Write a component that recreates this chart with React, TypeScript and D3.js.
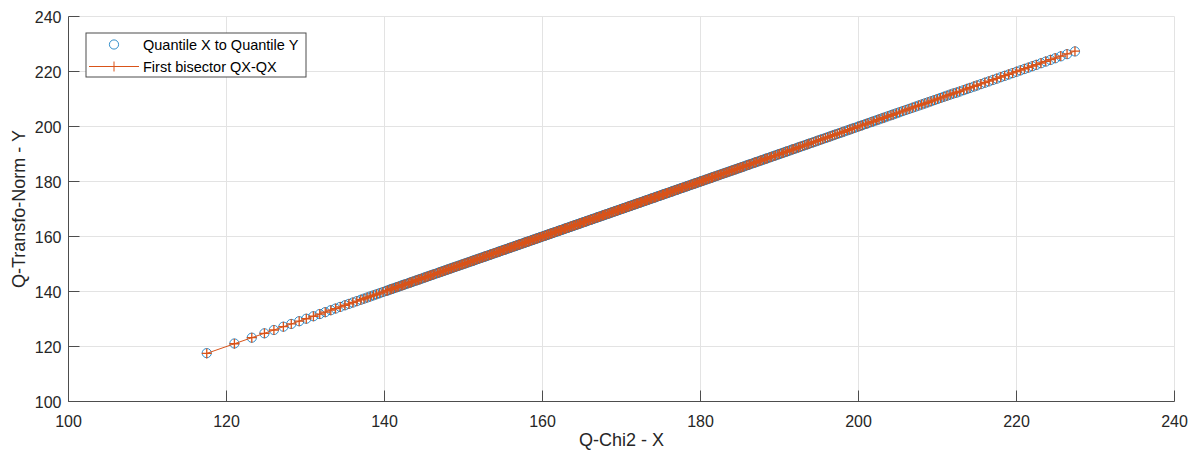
import React from 'react';
import * as d3 from 'd3';

// Quantiles of X (Q-Chi2)
const quantileX = [
  117.5, 121.0, 123.2, 124.8, 126.0, 127.2, 128.2, 129.2, 130.1, 131.0,
  131.8, 132.5, 133.2, 133.8, 134.4, 135.0, 135.5, 136.0, 136.5, 137.0,
  137.4, 137.8, 138.2, 138.6, 139.0, 139.4, 139.8,
  140.2, 140.4, 140.7, 140.9, 141.1, 141.4, 141.6, 141.8, 142.1, 142.3,
  142.5, 142.7, 143.0, 143.2, 143.4, 143.6, 143.9, 144.1, 144.3, 144.5,
  144.7, 145.0, 145.2, 145.4, 145.6, 145.8, 146.0, 146.2, 146.4, 146.7,
  146.9, 147.1, 147.3, 147.5, 147.7, 147.9, 148.1, 148.3, 148.5, 148.7,
  148.9, 149.1, 149.3, 149.5, 149.7, 149.9, 150.1, 150.3, 150.5, 150.7,
  150.9, 151.1, 151.2, 151.4, 151.6, 151.8, 152.0, 152.2, 152.4, 152.6,
  152.7, 152.9, 153.1, 153.3, 153.5, 153.6, 153.8, 154.0, 154.2, 154.4,
  154.5, 154.7, 154.9, 155.1, 155.2, 155.4, 155.6, 155.8, 155.9, 156.1,
  156.3, 156.5, 156.6, 156.8, 157.0, 157.1, 157.3, 157.5, 157.7, 157.8,
  158.0, 158.2, 158.3, 158.5, 158.7, 158.8, 159.0, 159.2, 159.3, 159.5,
  159.7, 159.8,
  160.0, 160.2, 160.3, 160.5, 160.7, 160.8, 161.0, 161.1, 161.3, 161.5,
  161.6, 161.8, 162.0, 162.1, 162.3, 162.4, 162.6, 162.8, 162.9, 163.1,
  163.2, 163.4, 163.6, 163.7, 163.9, 164.0, 164.2, 164.4, 164.5, 164.7,
  164.8, 165.0, 165.2, 165.3, 165.5, 165.6, 165.8, 166.0, 166.1, 166.3,
  166.4, 166.6, 166.8, 166.9, 167.1, 167.2, 167.4, 167.6, 167.7, 167.9,
  168.0, 168.2, 168.4, 168.5, 168.7, 168.8, 169.0, 169.2, 169.3, 169.5,
  169.6, 169.8, 170.0, 170.1, 170.3, 170.4, 170.6, 170.8, 170.9, 171.1,
  171.2, 171.4, 171.6, 171.7, 171.9, 172.0, 172.2, 172.4, 172.5, 172.7,
  172.9, 173.0, 173.2, 173.3, 173.5, 173.7, 173.8, 174.0, 174.2, 174.3,
  174.5, 174.7, 174.8, 175.0, 175.2, 175.3, 175.5, 175.7, 175.8, 176.0,
  176.2, 176.4, 176.5, 176.7, 176.9, 177.0, 177.2, 177.4, 177.6, 177.7,
  177.9, 178.1, 178.3, 178.4, 178.6, 178.8, 179.0, 179.2, 179.3, 179.5,
  179.7, 179.9, 180.1, 180.2, 180.4, 180.6, 180.8, 181.0, 181.2, 181.4,
  181.5, 181.7, 181.9, 182.1, 182.3, 182.5, 182.7, 182.9, 183.1, 183.3,
  183.5, 183.7, 183.9, 184.1, 184.3, 184.5, 184.7, 184.9,
  185.1, 185.3, 185.5, 185.8, 186.0, 186.2, 186.4, 186.7, 186.9, 187.1,
  187.4, 187.6, 187.8, 188.1, 188.3, 188.5, 188.8, 189.0, 189.3, 189.5,
  189.8, 190.0, 190.3, 190.5, 190.8, 191.0, 191.3, 191.6, 191.8, 192.1,
  192.4, 192.6, 192.9, 193.2, 193.5, 193.7, 194.0, 194.3, 194.6, 194.9,
  195.2, 195.5, 195.8, 196.1, 196.4, 196.7, 197.0, 197.3, 197.6, 197.9,
  198.2, 198.6, 198.9, 199.2, 199.5, 199.9, 200.2, 200.5, 200.9, 201.2,
  201.6, 201.9, 202.3, 202.6, 203.0, 203.3, 203.7, 204.1, 204.4, 204.8,
  205.2, 205.6, 206.0, 206.4, 206.8, 207.2, 207.6, 208.0, 208.4, 208.8,
  209.2, 209.6, 210.0, 210.4, 210.8, 211.2, 211.6, 212.0,
  212.4, 212.8, 213.3, 213.7, 214.1, 214.6, 215.0, 215.5, 216.0, 216.5,
  217.0, 217.5, 218.0, 218.5, 219.0, 219.5, 220.0, 220.5, 221.0, 221.5,
  222.0, 222.5, 223.1, 223.7, 224.3, 224.9, 225.6, 226.4, 227.4,
];

// Quantiles of Y (Q-Transfo-Norm)
const quantileY = [
  117.6, 121.1, 123.2, 124.8, 126.0, 127.2, 128.2, 129.2, 130.1, 131.0,
  131.8, 132.5, 133.2, 133.8, 134.4, 135.0, 135.5, 136.0, 136.5, 137.0,
  137.4, 137.8, 138.2, 138.6, 139.0, 139.4, 139.8,
  140.2, 140.4, 140.7, 140.9, 141.1, 141.4, 141.6, 141.8, 142.1, 142.3,
  142.5, 142.7, 143.0, 143.2, 143.4, 143.6, 143.9, 144.1, 144.3, 144.5,
  144.7, 145.0, 145.2, 145.4, 145.6, 145.8, 146.0, 146.2, 146.4, 146.7,
  146.9, 147.1, 147.3, 147.5, 147.7, 147.9, 148.1, 148.3, 148.5, 148.7,
  148.9, 149.1, 149.3, 149.5, 149.7, 149.9, 150.1, 150.3, 150.5, 150.7,
  150.9, 151.1, 151.2, 151.4, 151.6, 151.8, 152.0, 152.2, 152.4, 152.6,
  152.7, 152.9, 153.1, 153.3, 153.5, 153.6, 153.8, 154.0, 154.2, 154.4,
  154.5, 154.7, 154.9, 155.1, 155.2, 155.4, 155.6, 155.8, 155.9, 156.1,
  156.3, 156.5, 156.6, 156.8, 157.0, 157.1, 157.3, 157.5, 157.7, 157.8,
  158.0, 158.2, 158.3, 158.5, 158.7, 158.8, 159.0, 159.2, 159.3, 159.5,
  159.7, 159.8,
  160.0, 160.2, 160.3, 160.5, 160.7, 160.8, 161.0, 161.1, 161.3, 161.5,
  161.6, 161.8, 162.0, 162.1, 162.3, 162.4, 162.6, 162.8, 162.9, 163.1,
  163.2, 163.4, 163.6, 163.7, 163.9, 164.0, 164.2, 164.4, 164.5, 164.7,
  164.8, 165.0, 165.2, 165.3, 165.5, 165.6, 165.8, 166.0, 166.1, 166.3,
  166.4, 166.6, 166.8, 166.9, 167.1, 167.2, 167.4, 167.6, 167.7, 167.9,
  168.0, 168.2, 168.4, 168.5, 168.7, 168.8, 169.0, 169.2, 169.3, 169.5,
  169.6, 169.8, 170.0, 170.1, 170.3, 170.4, 170.6, 170.8, 170.9, 171.1,
  171.2, 171.4, 171.6, 171.7, 171.9, 172.0, 172.2, 172.4, 172.5, 172.7,
  172.9, 173.0, 173.2, 173.3, 173.5, 173.7, 173.8, 174.0, 174.2, 174.3,
  174.5, 174.7, 174.8, 175.0, 175.2, 175.3, 175.5, 175.7, 175.8, 176.0,
  176.2, 176.4, 176.5, 176.7, 176.9, 177.0, 177.2, 177.4, 177.6, 177.7,
  177.9, 178.1, 178.3, 178.4, 178.6, 178.8, 179.0, 179.2, 179.3, 179.5,
  179.7, 179.9, 180.1, 180.2, 180.4, 180.6, 180.8, 181.0, 181.2, 181.4,
  181.5, 181.7, 181.9, 182.1, 182.3, 182.5, 182.7, 182.9, 183.1, 183.3,
  183.5, 183.7, 183.9, 184.1, 184.3, 184.5, 184.7, 184.9,
  185.1, 185.3, 185.5, 185.8, 186.0, 186.2, 186.4, 186.7, 186.9, 187.1,
  187.4, 187.6, 187.8, 188.1, 188.3, 188.5, 188.8, 189.0, 189.3, 189.5,
  189.8, 190.0, 190.3, 190.5, 190.8, 191.0, 191.3, 191.6, 191.8, 192.1,
  192.4, 192.6, 192.9, 193.2, 193.5, 193.7, 194.0, 194.3, 194.6, 194.9,
  195.2, 195.5, 195.8, 196.1, 196.4, 196.7, 197.0, 197.3, 197.6, 197.9,
  198.2, 198.6, 198.9, 199.2, 199.5, 199.9, 200.2, 200.5, 200.9, 201.2,
  201.6, 201.9, 202.3, 202.6, 203.0, 203.3, 203.7, 204.1, 204.4, 204.8,
  205.2, 205.6, 206.0, 206.4, 206.8, 207.2, 207.6, 208.0, 208.4, 208.8,
  209.2, 209.6, 210.0, 210.4, 210.8, 211.2, 211.6, 212.0,
  212.3, 212.7, 213.2, 213.6, 214.0, 214.5, 214.9, 215.4, 215.9, 216.4,
  216.9, 217.4, 217.9, 218.4, 218.9, 219.4, 219.9, 220.4, 220.9, 221.4,
  221.9, 222.4, 223.0, 223.6, 224.2, 224.8, 225.5, 226.3, 227.3,
];

const xTicks = [100, 120, 140, 160, 180, 200, 220, 240];
const yTicks = [100, 120, 140, 160, 180, 200, 220, 240];

const seriesNames = ['Quantile X to Quantile Y', 'First bisector QX-QX'];

const W = 1195;
const H = 453;
const BLUE = '#0072BD';
const ORANGE = '#D95319';
const AXIS = '#4d4d4d';
const FONT = '"Liberation Sans", Arial, Helvetica, sans-serif';

export default function App() {
  const x = d3.scaleLinear().domain([100, 240]).range([68.5, 1174.5]);
  const y = d3.scaleLinear().domain([100, 240]).range([401.5, 16.5]);

  const n = Math.min(quantileX.length, quantileY.length);
  const pts = d3.range(n).map(i => ({ qx: quantileX[i], qy: quantileY[i] }));

  const bisector = d3.line<number>()
    .x(d => x(d))
    .y(d => y(d));

  const x0 = x.range()[0], x1 = x.range()[1];
  const y0 = y.range()[0], y1 = y.range()[1];
  const tickLen = 11;
  const r = 4.6; // circle radius
  const m = 5; // plus half size

  return (
    <svg width={W} height={H} style={{ position: 'absolute', left: 0, top: 0, background: '#fff' }}
      fontFamily={FONT}>
      {/* grid */}
      <g stroke="#e3e3e3" strokeWidth={1}>
        {xTicks.map(t => (
          <line key={'gx' + t} x1={x(t)} x2={x(t)} y1={y0} y2={y1} />
        ))}
        {yTicks.map(t => (
          <line key={'gy' + t} x1={x0} x2={x1} y1={y(t)} y2={y(t)} />
        ))}
      </g>

      {/* quantile circles */}
      <g fill="none" stroke={BLUE} strokeWidth={0.8}>
        {pts.map((p, i) => (
          <circle key={i} cx={x(p.qx)} cy={y(p.qy)} r={r} />
        ))}
      </g>

      {/* first bisector line with + markers */}
      <path d={bisector(quantileX) || ''} fill="none" stroke={ORANGE} strokeWidth={1} />
      <g stroke={ORANGE} strokeWidth={1.3}>
        {quantileX.map((v, i) => (
          <path key={i} d={`M${x(v) - m},${y(v)}h${2 * m}M${x(v)},${y(v) - m}v${2 * m}`} />
        ))}
      </g>

      {/* axes */}
      <g stroke={AXIS} strokeWidth={1} fill="none">
        <line x1={x0} x2={x1} y1={y0} y2={y0} />
        <line x1={x0} x2={x0} y1={y0} y2={y1} />
        {xTicks.map(t => (
          <line key={'tx' + t} x1={x(t)} x2={x(t)} y1={y0} y2={y0 - tickLen} />
        ))}
        {yTicks.map(t => (
          <line key={'ty' + t} x1={x0} x2={x0 + tickLen} y1={y(t)} y2={y(t)} />
        ))}
      </g>
      <g fill="#262626" fontSize={16}>
        {xTicks.map(t => (
          <text key={'lx' + t} x={x(t)} y={y0 + 25} textAnchor="middle">{t}</text>
        ))}
        {yTicks.map(t => (
          <text key={'ly' + t} x={x0 - 7} y={y(t) + 6} textAnchor="end">{t}</text>
        ))}
      </g>
      <text x={(x0 + x1) / 2} y={446} textAnchor="middle" fontSize={18} fill="#262626">Q-Chi2 - X</text>
      <text transform={`translate(25,${(y0 + y1) / 2}) rotate(-90)`} textAnchor="middle" fontSize={18} fill="#262626">
        Q-Transfo-Norm - Y
      </text>

      {/* legend */}
      <g>
        <rect x={86} y={33} width={220} height={44} fill="#fff" stroke={AXIS} strokeWidth={1} />
        <circle cx={114} cy={44.5} r={r} fill="none" stroke={BLUE} strokeWidth={0.8} />
        <line x1={89} x2={139} y1={66.5} y2={66.5} stroke={ORANGE} strokeWidth={1} />
        <path d={`M${114 - m},66.5h${2 * m}M114,${66.5 - m}v${2 * m}`} stroke={ORANGE} strokeWidth={1} />
        <text x={143} y={49.5} fontSize={14.5} fill="#000">{seriesNames[0]}</text>
        <text x={143} y={71.5} fontSize={14.5} fill="#000">{seriesNames[1]}</text>
      </g>
    </svg>
  );
}
